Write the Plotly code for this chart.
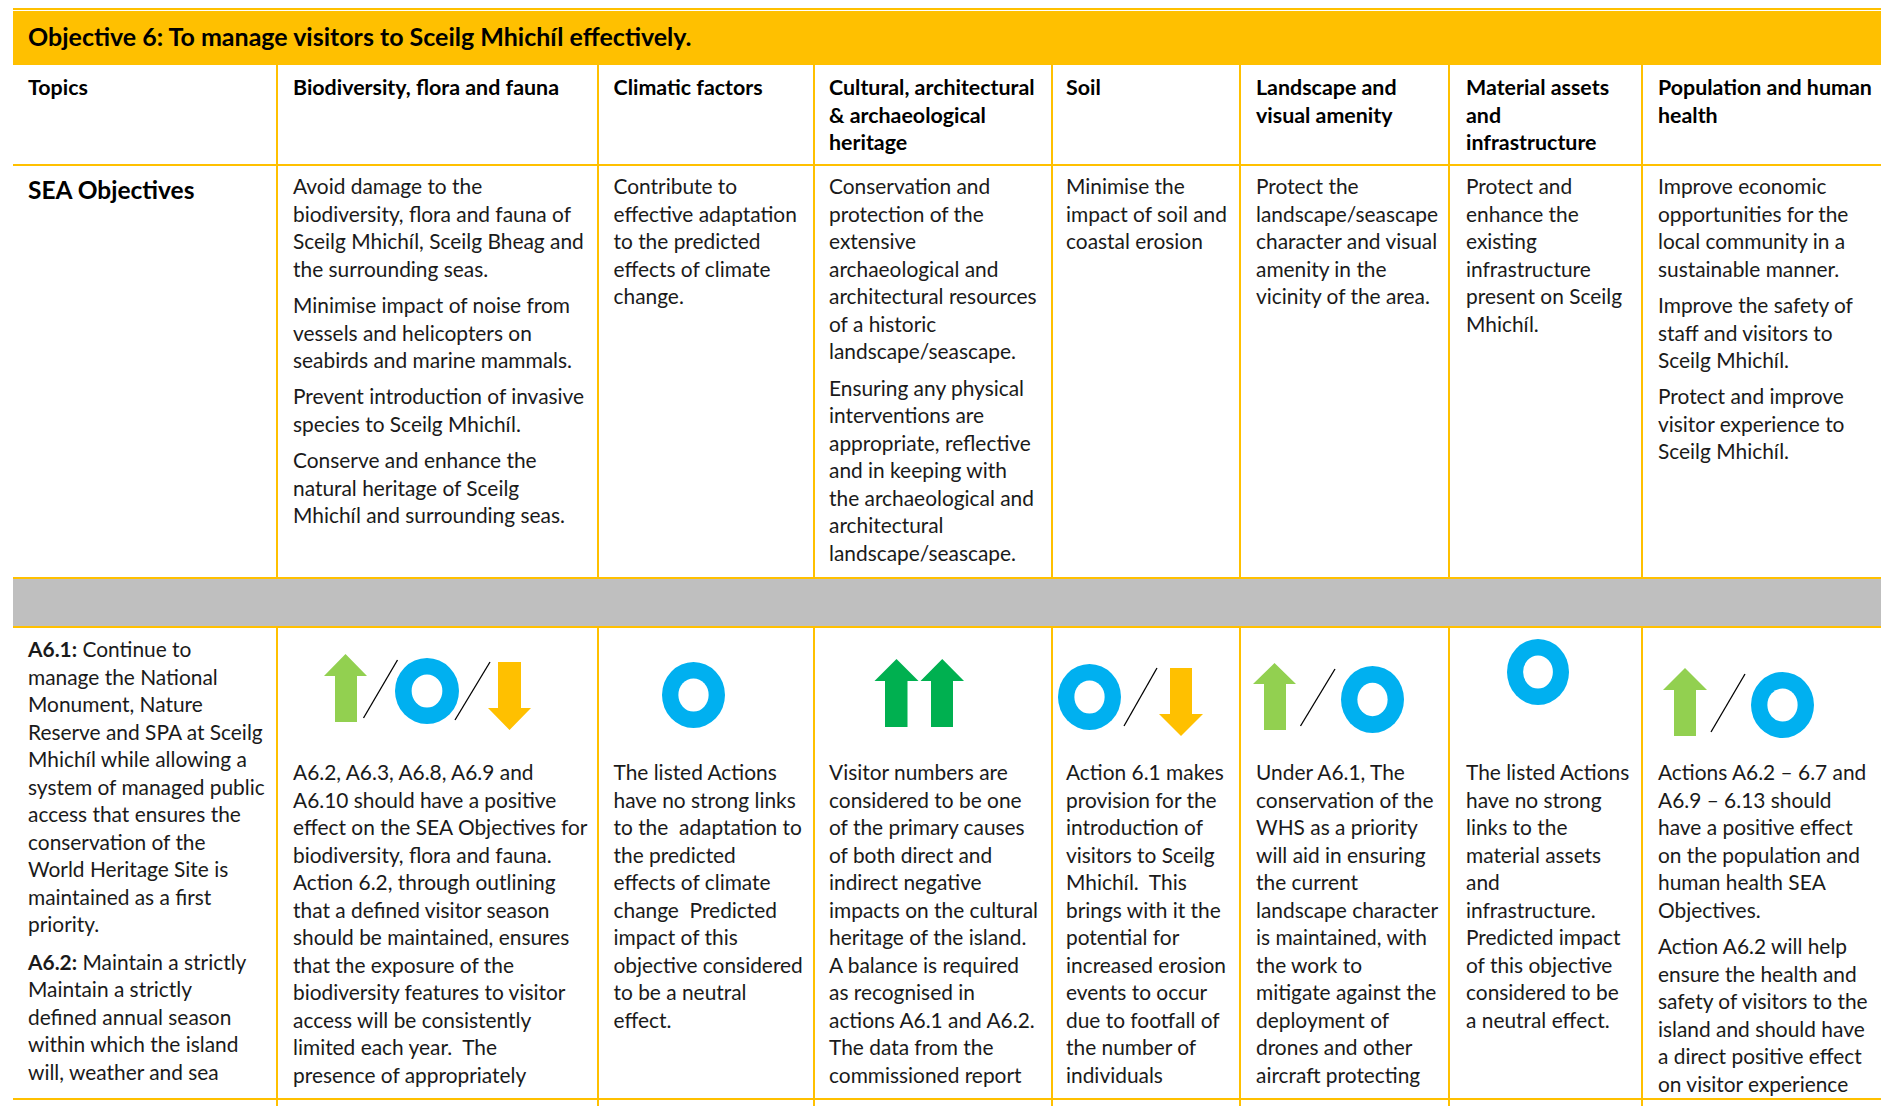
import plotly.graph_objects as go

# ---------- content ----------
title_text = "Objective 6: To manage visitors to Sceilg Mhichíl effectively."
topics_label = "Topics"
sea_label = "SEA Objectives"
topic_headers = [
    ["Biodiversity, flora and fauna"],
    ["Climatic factors"],
    ["Cultural, architectural", "& archaeological", "heritage"],
    ["Soil"],
    ["Landscape and", "visual amenity"],
    ["Material assets", "and", "infrastructure"],
    ["Population and human", "health"],
]
sea_objectives = [
    [["Avoid damage to the", "biodiversity, flora and fauna of", "Sceilg Mhichíl, Sceilg Bheag and", "the surrounding seas."],
     ["Minimise impact of noise from", "vessels and helicopters on", "seabirds and marine mammals."],
     ["Prevent introduction of invasive", "species to Sceilg Mhichíl."],
     ["Conserve and enhance the", "natural heritage of Sceilg", "Mhichíl and surrounding seas."]],
    [["Contribute to", "effective adaptation", "to the predicted", "effects of climate", "change."]],
    [["Conservation and", "protection of the", "extensive", "archaeological and", "architectural resources", "of a historic", "landscape/seascape."],
     ["Ensuring any physical", "interventions are", "appropriate, reflective", "and in keeping with", "the archaeological and", "architectural", "landscape/seascape."]],
    [["Minimise the", "impact of soil and", "coastal erosion"]],
    [["Protect the", "landscape/seascape", "character and visual", "amenity in the", "vicinity of the area."]],
    [["Protect and", "enhance the", "existing", "infrastructure", "present on Sceilg", "Mhichíl."]],
    [["Improve economic", "opportunities for the", "local community in a", "sustainable manner."],
     ["Improve the safety of", "staff and visitors to", "Sceilg Mhichíl."],
     ["Protect and improve", "visitor experience to", "Sceilg Mhichíl."]],
]
actions_text = [
    ["<b>A6.1:</b> Continue to", "manage the National", "Monument, Nature", "Reserve and SPA at Sceilg", "Mhichíl while allowing a",
     "system of managed public", "access that ensures the", "conservation of the", "World Heritage Site is", "maintained as a first", "priority."],
    ["<b>A6.2:</b> Maintain a strictly", "Maintain a strictly", "defined annual season", "within which the island", "will, weather and sea"],
]
assessments = [
    [["A6.2, A6.3, A6.8, A6.9 and", "A6.10 should have a positive", "effect on the SEA Objectives for", "biodiversity, flora and fauna.",
      "Action 6.2, through outlining", "that a defined visitor season", "should be maintained, ensures", "that the exposure of the",
      "biodiversity features to visitor", "access will be consistently", "limited each year.  The", "presence of appropriately"]],
    [["The listed Actions", "have no strong links", "to the  adaptation to", "the predicted", "effects of climate", "change  Predicted",
      "impact of this", "objective considered", "to be a neutral", "effect."]],
    [["Visitor numbers are", "considered to be one", "of the primary causes", "of both direct and", "indirect negative", "impacts on the cultural",
      "heritage of the island.", "A balance is required", "as recognised in", "actions A6.1 and A6.2.", "The data from the", "commissioned report"]],
    [["Action 6.1 makes", "provision for the", "introduction of", "visitors to Sceilg", "Mhichíl.  This", "brings with it the", "potential for",
      "increased erosion", "events to occur", "due to footfall of", "the number of", "individuals"]],
    [["Under A6.1, The", "conservation of the", "WHS as a priority", "will aid in ensuring", "the current", "landscape character", "is maintained, with",
      "the work to", "mitigate against the", "deployment of", "drones and other", "aircraft protecting"]],
    [["The listed Actions", "have no strong", "links to the", "material assets", "and", "infrastructure.", "Predicted impact", "of this objective",
      "considered to be", "a neutral effect."]],
    [["Actions A6.2 – 6.7 and", "A6.9 – 6.13 should", "have a positive effect", "on the population and", "human health SEA", "Objectives."],
     ["Action A6.2 will help", "ensure the health and", "safety of visitors to the", "island and should have", "a direct positive effect", "on visitor experience"]],
]

# ---------- layout constants (pixels of the page) ----------
W, H = 1881, 1106
ORANGE, GREY, BLUE, LIGHT, DARK = "#FFC000", "#BFBFBF", "#00B0F0", "#92D050", "#00B050"
INK = "#1a1a1a"
FONT = "Lato"
SIZE = 20.9
BOLD = 21.4
LEFT = 13
COL_LINES = [277, 598, 814, 1052, 1240, 1449, 1642]
COL_TEXT = [293, 613.5, 829, 1066, 1256, 1466, 1658]
LABEL_X = 28
STEP = 27.5
PARA = 36.2
DY = 1.2

fig = go.Figure()
shapes = []


def rect(x0, y0, x1, y1, color):
    shapes.append(dict(type="rect", x0=x0, y0=y0, x1=x1, y1=y1, fillcolor=color, line_width=0, layer="below"))


def rule(x0, y0, x1, y1, color=ORANGE, width=2):
    shapes.append(dict(type="line", x0=x0, y0=y0, x1=x1, y1=y1, line=dict(color=color, width=width), layer="below"))


def donut(x0, y0, x1, y1):
    shapes.append(dict(type="circle", x0=x0, y0=y0, x1=x1, y1=y1, fillcolor=BLUE, line_width=0))
    dx, dy = (x1 - x0) * 0.26, (y1 - y0) * 0.25
    shapes.append(dict(type="circle", x0=x0 + dx, y0=y0 + dy, x1=x1 - dx, y1=y1 - dy, fillcolor="white", line_width=0))


def arrow(h0, h1, s0, s1, tip, base, end, color):
    m = (h0 + h1) / 2
    p = f"M{s0},{end} L{s0},{base} L{h0},{base} L{m},{tip} L{h1},{base} L{s1},{base} L{s1},{end} Z"
    shapes.append(dict(type="path", path=p, fillcolor=color, line_width=0))


def slash(x0, y0, x1, y1):
    shapes.append(dict(type="line", x0=x0, y0=y0, x1=x1, y1=y1, line=dict(color="black", width=1.3)))


# bands and rules
rule(LEFT, 9, W, 9, ORANGE, 2)
rect(LEFT, 11, W, 65, ORANGE)
rule(LEFT, 165, W, 165, ORANGE, 2)
rule(LEFT, 578, W, 578, ORANGE, 2)
rule(LEFT, 627, W, 627, ORANGE, 2)
rule(LEFT, 1099, W, 1099, ORANGE, 2)
for xc in COL_LINES:
    rule(xc, 65, xc, 1106, ORANGE, 2)
rect(LEFT, 579, W, 626, GREY)

# icons
arrow(324, 367, 335, 357, 654, 676, 722, LIGHT)
slash(363.5, 718, 397.5, 660)
donut(395, 658, 459, 724)
slash(455, 720, 490, 662)
arrow(488, 531, 498, 521, 730, 708, 662, ORANGE)
donut(662, 662, 725, 728)
arrow(874.5, 918.5, 885, 907.5, 659, 681, 727, DARK)
arrow(920.5, 964, 931, 953, 659, 681, 727, DARK)
donut(1058, 664, 1121, 730)
slash(1124, 726, 1157, 668)
arrow(1159, 1203, 1170, 1192, 736, 714, 668, ORANGE)
arrow(1253, 1296, 1264, 1286, 663, 684, 730, LIGHT)
slash(1300.5, 726, 1335, 669)
donut(1341, 666, 1404, 733)
donut(1507, 639, 1569, 705)
arrow(1663, 1707, 1674, 1696, 668, 690, 736, LIGHT)
slash(1711, 732, 1745, 674)
donut(1751, 672, 1814, 738)


def add_lines(xs, ys, texts, size=SIZE, color=INK):
    fig.add_trace(go.Scatter(x=xs, y=ys, text=texts, mode="text", textposition="middle right",
                             textfont=dict(family=FONT, size=size, color=color),
                             hoverinfo="skip", showlegend=False, cliponaxis=True))


def place(x, y0, paragraphs, xs, ys, texts):
    y = y0 + DY
    for para in paragraphs:
        for line in para:
            xs.append(x); ys.append(y); texts.append(line)
            y += STEP
        y += PARA - STEP


xs, ys, tx = [], [], []
for x, cell in zip(COL_TEXT, sea_objectives):
    place(x, 188, cell, xs, ys, tx)
place(LABEL_X, 651, [actions_text[0]], xs, ys, tx)
place(LABEL_X, 963.5, [actions_text[1]], xs, ys, tx)
for x, cell in zip(COL_TEXT, assessments):
    place(x, 774, cell, xs, ys, tx)
add_lines(xs, ys, tx)

xs, ys, tx = [], [], []
place(LABEL_X, 88.5, [[f"<b>{topics_label}</b>"]], xs, ys, tx)
for x, cell in zip(COL_TEXT, topic_headers):
    place(x, 88.5, [[f"<b>{t}</b>" for t in cell]], xs, ys, tx)
add_lines(xs, ys, tx, size=BOLD, color="black")

add_lines([LABEL_X], [40], [f"<b>{title_text}</b>"], size=25, color="black")
add_lines([LABEL_X], [193], [f"<b>{sea_label}</b>"], size=24.5, color="black")

fig.update_layout(
    width=W, height=H, margin=dict(l=0, r=0, t=0, b=0), paper_bgcolor="white", plot_bgcolor="white",
    xaxis=dict(range=[0, W], visible=False, fixedrange=True),
    yaxis=dict(range=[H, 0], visible=False, fixedrange=True),
    shapes=shapes,
)
fig.write_html("out.html", post_script="document.body.style.margin='0';", config={"displayModeBar": False})
